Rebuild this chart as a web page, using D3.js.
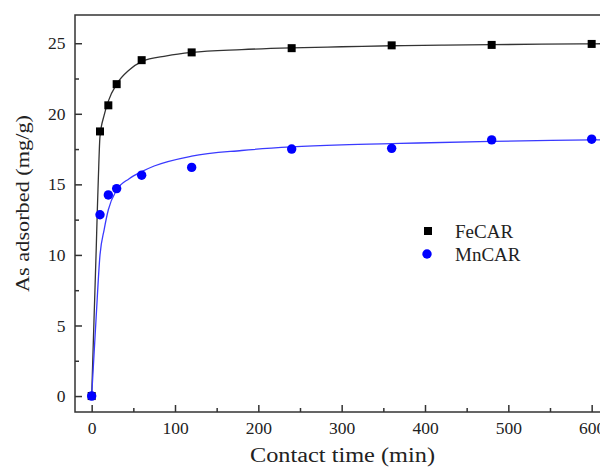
<!DOCTYPE html>
<meta charset="utf-8">
<script src="https://d3js.org/d3.v7.min.js"></script>
<style>
  body { margin: 0; background: #fff; }
  text { font-family: "Liberation Serif", "Times New Roman", serif; fill: #222; }
</style>
<div id="my_dataviz"></div>
<script>

// measured points (contact time in min, As adsorbed in mg/g)
var times = [0, 10, 20, 30, 60, 120, 240, 360, 480, 600];
var feCAR = [0, 18.75, 20.6, 22.1, 23.8, 24.35, 24.65, 24.85, 24.88, 24.95];
var mnCAR = [0, 12.85, 14.25, 14.7, 15.65, 16.2, 17.5, 17.55, 18.15, 18.2];

// fitted curves
var feFitT = [0, 2.7, 5.4, 6.8, 8, 10, 15, 20, 30, 45, 60, 90, 120, 180, 240, 300, 360, 420, 480, 540, 600, 625];
var feFitQ = [0, 5.2, 10.3, 13.2, 15.4, 18.4, 19.9, 20.9, 22.1, 23.1, 23.7, 24.1, 24.35, 24.55, 24.67, 24.75, 24.82, 24.87, 24.9, 24.93, 24.96, 24.97];
var mnFitT = [0, 5.4, 10, 15, 20, 30, 45, 60, 75, 120, 180, 240, 300, 370, 480, 600, 625];
var mnFitQ = [0, 5.6, 10, 11.8, 13.2, 14.6, 15.4, 15.9, 16.3, 17.0, 17.4, 17.65, 17.8, 17.9, 18.05, 18.15, 18.17];

var xTicks = [0, 100, 200, 300, 400, 500, 600];
var xMinor = [50, 150, 250, 350, 450, 550];
var yTicks = [0, 5, 10, 15, 20, 25];
var yMinor = [2.5, 7.5, 12.5, 17.5, 22.5];

var width = 600, height = 469;
var margin = {left: 75, right: 612.5, top: 15, bottom: 412};

var svg = d3.select("#my_dataviz")
  .append("svg")
    .attr("width", width)
    .attr("height", height);

var x = d3.scaleLinear().domain([-20, 625]).range([margin.left, margin.right]);
var y = d3.scaleLinear().domain([-1.13, 27]).range([margin.bottom, margin.top]);

// frame
svg.append("rect")
  .attr("x", margin.left).attr("y", margin.top)
  .attr("width", margin.right - margin.left).attr("height", margin.bottom - margin.top)
  .attr("fill", "none").attr("stroke", "#333").attr("stroke-width", 1.5);

// axes, ticks pointing inward
var xAxis = svg.append("g")
  .attr("transform", "translate(0," + margin.bottom + ")")
  .call(d3.axisBottom(x).tickValues(xTicks).tickSize(-7).tickPadding(10));
var xAxisMinor = svg.append("g")
  .attr("transform", "translate(0," + margin.bottom + ")")
  .call(d3.axisBottom(x).tickValues(xMinor).tickSize(-4).tickFormat(""));
var yAxis = svg.append("g")
  .attr("transform", "translate(" + margin.left + ",0)")
  .call(d3.axisLeft(y).tickValues(yTicks).tickSize(-7).tickPadding(9.5));
var yAxisMinor = svg.append("g")
  .attr("transform", "translate(" + margin.left + ",0)")
  .call(d3.axisLeft(y).tickValues(yMinor).tickSize(-4).tickFormat(""));

[xAxis, xAxisMinor, yAxis, yAxisMinor].forEach(function(g) {
  g.select(".domain").remove();
  g.selectAll("line").attr("stroke", "#333").attr("stroke-width", 1.5);
  g.selectAll("text").style("font-size", "17.5px").attr("fill", "#222")
    .style("font-family", "Liberation Serif, serif");
});

// fitted lines
var line = d3.line()
  .x(function(d) { return x(d[0]); })
  .y(function(d) { return y(d[1]); })
  .curve(d3.curveMonotoneX);

svg.append("path")
  .datum(d3.zip(feFitT, feFitQ))
  .attr("d", line)
  .attr("fill", "none").attr("stroke", "#333").attr("stroke-width", 1.3);
svg.append("path")
  .datum(d3.zip(mnFitT, mnFitQ))
  .attr("d", line)
  .attr("fill", "none").attr("stroke", "#3a3aff").attr("stroke-width", 1.3);

// markers
svg.append("g").selectAll("rect")
  .data(d3.zip(times, feCAR))
  .enter().append("rect")
    .attr("x", function(d) { return x(d[0]) - 4; })
    .attr("y", function(d) { return y(d[1]) - 4; })
    .attr("width", 8).attr("height", 8)
    .attr("fill", "#000");
svg.append("g").selectAll("circle")
  .data(d3.zip(times, mnCAR))
  .enter().append("circle")
    .attr("cx", function(d) { return x(d[0]); })
    .attr("cy", function(d) { return y(d[1]); })
    .attr("r", 4.7)
    .attr("fill", "#0000ff");

// legend
var legend = svg.append("g").attr("transform", "translate(428,231)");
legend.append("rect").attr("x", -4).attr("y", -4).attr("width", 8).attr("height", 8).attr("fill", "#000");
legend.append("text").attr("x", 27).attr("y", 6.5).style("font-size", "19px").text("FeCAR");
legend.append("circle").attr("cx", -1).attr("cy", 23).attr("r", 4.7).attr("fill", "#0000ff");
legend.append("text").attr("x", 27).attr("y", 29.5).style("font-size", "19px").text("MnCAR");

// axis titles
svg.append("text")
  .attr("x", 342.5).attr("y", 462)
  .attr("text-anchor", "middle")
  .attr("textLength", 185).attr("lengthAdjust", "spacingAndGlyphs")
  .style("font-size", "20px")
  .text("Contact time (min)");
svg.append("text")
  .attr("transform", "translate(29,203.5) rotate(-90)")
  .attr("text-anchor", "middle")
  .attr("textLength", 177).attr("lengthAdjust", "spacingAndGlyphs")
  .style("font-size", "19.5px")
  .text("As adsorbed (mg/g)");

</script>
